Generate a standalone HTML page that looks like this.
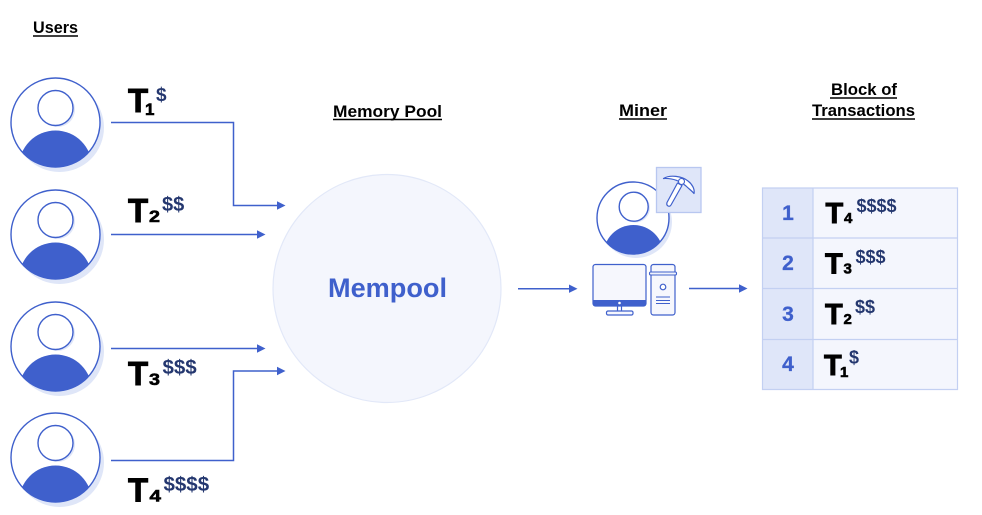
<!DOCTYPE html>
<html>
<head>
<meta charset="utf-8">
<style>
html,body{margin:0;padding:0;background:#fff;width:982px;height:515px;overflow:hidden}
svg{display:block}
text{font-family:"Liberation Sans",sans-serif;font-weight:700}
.h{font-size:17px;fill:#000}
.T{fill:#000;stroke:#000;stroke-width:.9}
.s{fill:#000;stroke:#000;stroke-width:.6}
.d{fill:#24376f}
.n{font-size:21px;fill:#3f60cc;text-anchor:middle;stroke:#3f60cc;stroke-width:.3}
.l{fill:none;stroke:#3f60cc;stroke-width:1.5}
.a{fill:#3f60cc}
.u{stroke:#000;stroke-width:1.5}
</style>
</head>
<body>
<svg width="982" height="515" viewBox="0 0 982 515" xmlns="http://www.w3.org/2000/svg">
<defs>
<clipPath id="c"><circle cx="0" cy="0" r="44.5"/></clipPath>
<g id="p">
<circle cx="4" cy="5" r="44.5" fill="#dfe6f8"/>
<circle cx="0" cy="0" r="44.5" fill="#fff" stroke="#3f60cc" stroke-width="1.4"/>
<circle cx="2" cy="-13" r="17.5" fill="#dfe6f8"/>
<circle cx="0" cy="-14.5" r="17.5" fill="#fff" stroke="#3f60cc" stroke-width="1.4"/>
<circle cx="0" cy="44.5" r="36.5" fill="#3f60cc" clip-path="url(#c)"/>
</g>
<clipPath id="m"><circle cx="633" cy="218" r="36"/></clipPath>
</defs>

<text class="h" x="33" y="33" textLength="45" lengthAdjust="spacingAndGlyphs">Users</text>
<line class="u" x1="33" y1="36" x2="78" y2="36"/>
<text class="h" x="333" y="117" textLength="109" lengthAdjust="spacingAndGlyphs">Memory Pool</text>
<line class="u" x1="333" y1="119.5" x2="442" y2="119.5"/>
<text class="h" x="619" y="116" textLength="48" lengthAdjust="spacingAndGlyphs">Miner</text>
<line class="u" x1="619" y1="119" x2="667" y2="119"/>
<text class="h" x="831" y="95" textLength="66" lengthAdjust="spacingAndGlyphs">Block of</text>
<line class="u" x1="830" y1="98" x2="897" y2="98"/>
<text class="h" x="812" y="116" textLength="103" lengthAdjust="spacingAndGlyphs">Transactions</text>
<line class="u" x1="812" y1="119" x2="915" y2="119"/>

<use href="#p" x="55.5" y="122.5"/>
<use href="#p" x="55.5" y="234.5"/>
<use href="#p" x="55.5" y="346.5"/>
<use href="#p" x="55.5" y="457.5"/>

<text class="T" x="128" y="112" font-size="33">T</text>
<text class="s" x="145" y="115" font-size="17">1</text>
<text class="d" x="156" y="101" font-size="19">$</text>
<text class="T" x="128" y="222" font-size="33">T</text>
<text class="s" x="149" y="222" font-size="17" textLength="11" lengthAdjust="spacingAndGlyphs">2</text>
<text class="d" x="162" y="211" font-size="20">$$</text>
<text class="T" x="128" y="385" font-size="33">T</text>
<text class="s" x="149" y="385" font-size="17" textLength="11" lengthAdjust="spacingAndGlyphs">3</text>
<text class="d" x="162.5" y="374" font-size="20.5">$$$</text>
<text class="T" x="128" y="501.5" font-size="33">T</text>
<text class="s" x="149.5" y="501.5" font-size="17" textLength="11.5" lengthAdjust="spacingAndGlyphs">4</text>
<text class="d" x="163.5" y="491" font-size="20.5">$$$$</text>

<path class="l" d="M111 122.5H233.5V205.5H278"/>
<path class="a" d="M277 201.3L285.5 205.5L277 209.7Z"/>
<path class="l" d="M111 234.5H258"/>
<path class="a" d="M257 230.3L265.5 234.5L257 238.7Z"/>
<path class="l" d="M111 348.5H258"/>
<path class="a" d="M257 344.3L265.5 348.5L257 352.7Z"/>
<path class="l" d="M111 460.5H233.5V371H278"/>
<path class="a" d="M277 366.8L285.5 371L277 375.2Z"/>

<circle cx="387" cy="288.5" r="114" fill="#f4f6fd" stroke="#e2e8f8" stroke-width="1.2"/>
<text x="328" y="297" font-size="27" fill="#3f60cc" textLength="119" lengthAdjust="spacingAndGlyphs">Mempool</text>

<path class="l" d="M518 288.7H570"/>
<path class="a" d="M569 284.5L577.5 288.7L569 292.9Z"/>
<path class="l" d="M689 288.5H740"/>
<path class="a" d="M739 284.3L747.5 288.5L739 292.7Z"/>

<!-- miner -->
<circle cx="636" cy="222" r="36" fill="#dfe6f8"/>
<circle cx="633" cy="218" r="36" fill="#fff" stroke="#3f60cc" stroke-width="1.4"/>
<circle cx="635.5" cy="208" r="14.5" fill="#dfe6f8"/>
<circle cx="633.7" cy="206.7" r="14.5" fill="#fff" stroke="#3f60cc" stroke-width="1.4"/>
<circle cx="633.5" cy="255" r="30" fill="#3f60cc" clip-path="url(#m)"/>
<rect x="656.5" y="167.5" width="44.5" height="45" fill="#dfe6f9" stroke="#b8c7f0" stroke-width="1.3"/>
<path d="M663.5 178.500C672 178 680 181 686 186C689 189 692 191 694 193.500C695 189 692 184 688 181C682 176 670 174.500 663.500 178.500Z" fill="#fff" stroke="#3f60cc" stroke-width="1.200" stroke-linejoin="round"/>
<path d="M677.500 183L667 202.500C666 206 669.500 207.500 671 205L682 185.500Z" fill="#fff" stroke="#3f60cc" stroke-width="1.200" stroke-linejoin="round"/>
<circle cx="681.500" cy="181.500" r="3" fill="#fff" stroke="#3f60cc" stroke-width="1.100"/>

<rect x="593" y="264.500" width="53" height="41.500" rx="2.500" fill="#f6f7fd" stroke="#3f60cc" stroke-width="1.200"/>
<path d="M593 300H646V303.500A2.500 2.500 0 0 1 643.500 306H595.500A2.500 2.500 0 0 1 593 303.500Z" fill="#3f60cc"/>
<circle cx="619.500" cy="303" r="1.300" fill="#fff"/>
<path d="M617.500 306V311M621.500 306V311" stroke="#3f60cc" stroke-width="1.200" fill="none"/>
<rect x="606.500" y="311" width="26.500" height="4" rx="1.500" fill="#f6f7fd" stroke="#3f60cc" stroke-width="1.200"/>
<rect x="651" y="264.500" width="24" height="50.500" rx="2.500" fill="#f6f7fd" stroke="#3f60cc" stroke-width="1.200"/>
<rect x="649.500" y="272" width="27" height="3" rx="1.200" fill="#f0f3fc" stroke="#3f60cc" stroke-width="1.100"/>
<circle cx="663" cy="287" r="2.800" fill="#fff" stroke="#3f60cc" stroke-width="1.200"/>
<path d="M656 297H670M656 300.500H670M656 303.500H670" stroke="#3f60cc" stroke-width="1.100" fill="none"/>

<!-- table -->
<rect x="762.500" y="188" width="50.500" height="201.500" fill="#dfe6f9"/>
<rect x="813" y="188" width="144.500" height="201.500" fill="#f4f6fd"/>
<path d="M762.500 188H957.500V389.500H762.500ZM813 188V389.500M762.500 238H957.500M762.500 288.500H957.500M762.500 339.500H957.500" fill="none" stroke="#c3d0f2" stroke-width="1.200"/>

<text class="n" x="788" y="220">1</text>
<text class="n" x="788" y="270">2</text>
<text class="n" x="788" y="321">3</text>
<text class="n" x="788" y="371">4</text>

<text class="T" x="825.500" y="223" font-size="29">T</text>
<text class="s" x="844" y="223" font-size="15">4</text>
<text class="d" x="856.500" y="212" font-size="18">$$$$</text>
<text class="T" x="825" y="273.500" font-size="29">T</text>
<text class="s" x="843.500" y="273.500" font-size="15">3</text>
<text class="d" x="855.500" y="263" font-size="18">$$$</text>
<text class="T" x="825" y="324" font-size="29">T</text>
<text class="s" x="843.500" y="324" font-size="15">2</text>
<text class="d" x="855" y="313" font-size="18">$$</text>
<text class="T" x="824" y="375" font-size="29">T</text>
<text class="s" x="840" y="377" font-size="15">1</text>
<text class="d" x="849" y="363.500" font-size="18">$</text>
</svg>
</body>
</html>
